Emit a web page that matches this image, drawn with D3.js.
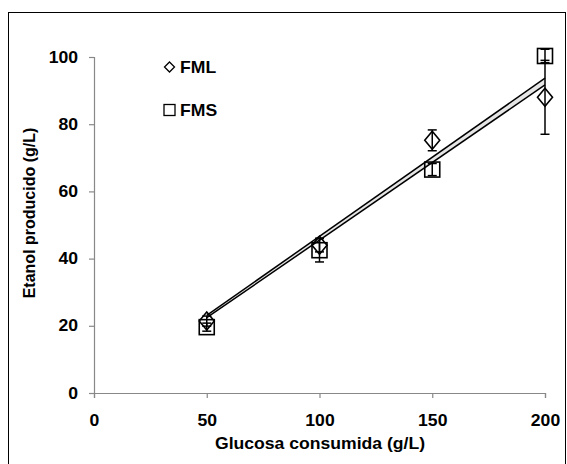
<!DOCTYPE html>
<html>
<head>
<meta charset="utf-8">
<script src="https://cdn.jsdelivr.net/npm/d3@7"></script>
<style>
  body { margin: 0; background: #fff; }
  text { font-family: "Liberation Sans", Arial, sans-serif; font-weight: bold; fill: #000; }
</style>
</head>
<body>
<div id="chart"></div>
<script>
// Glucosa consumida vs etanol producido
var glucosa = [50, 100, 150, 200];
var fml = [21.4, 44.0, 75.2, 88.0];
var fmlErr = [1.5, 2.0, 3.1, 11.0];
var fms = [19.6, 42.5, 66.5, 100.3];
var fmsErr = [1.2, 3.5, 1.8, 2.0];
// trend lines (end points)
var trendX = [50, 200];
var trendFML = [22.4, 91.7];
var trendFMS = [23.1, 93.7];
var xTicks = [0, 50, 100, 150, 200];
var yTicks = [0, 20, 40, 60, 80, 100];

var svgWidth = 567;
var svgHeight = 464;
var stretch = "scale(1.1,1)"; // the original text is a little wide

var svg = d3.select("#chart")
  .append("svg")
  .attr("width", svgWidth)
  .attr("height", svgHeight);

// outer frame
svg.append("rect")
  .attr("x", 8.5).attr("y", 12.5)
  .attr("width", 557).attr("height", 452)
  .attr("fill", "none")
  .attr("stroke", "#000")
  .attr("stroke-width", 1);

var x = d3.scaleLinear().domain([0, 200]).range([94, 545]);
var y = d3.scaleLinear().domain([0, 100]).range([393, 57]);

// axes
var xAxis = svg.append("g")
  .attr("transform", "translate(0,393)")
  .call(d3.axisBottom(x).tickValues(xTicks).tickSize(5).tickPadding(17));
var yAxis = svg.append("g")
  .attr("transform", "translate(94,0)")
  .call(d3.axisLeft(y).tickValues(yTicks).tickSize(5).tickPadding(9.5));

[xAxis, yAxis].forEach(function(g) {
  g.select(".domain").attr("stroke", "#888").attr("stroke-width", 1.2);
  g.selectAll(".tick line").attr("stroke", "#888").attr("stroke-width", 1.2);
  g.selectAll(".tick text")
    .attr("fill", "#000")
    .attr("transform", stretch)
    .style("font-size", "16px")
    .style("font-family", "Liberation Sans, Arial, sans-serif")
    .style("font-weight", "bold");
});

// trend lines with light band between them
var band = trendX.map(function(d, i) { return [x(d), y(trendFMS[i])]; })
  .concat(trendX.slice().reverse().map(function(d, i) {
    return [x(d), y(trendFML.slice().reverse()[i])];
  }));
svg.append("polygon")
  .attr("points", band.map(function(p) { return p.join(","); }).join(" "))
  .attr("fill", "#e6e6e6");

var line = d3.line()
  .x(function(d) { return x(d[0]); })
  .y(function(d) { return y(d[1]); });

[trendFML, trendFMS].forEach(function(t) {
  svg.append("path")
    .datum(trendX.map(function(d, i) { return [d, t[i]]; }))
    .attr("d", line)
    .attr("fill", "none")
    .attr("stroke", "#000")
    .attr("stroke-width", 1.5);
});

// error bars
function errorBars(vals, errs) {
  var g = svg.append("g").attr("stroke", "#000").attr("stroke-width", 1.5);
  glucosa.forEach(function(gx, i) {
    var cx = x(gx);
    var top = y(vals[i] + errs[i]);
    var bot = y(vals[i] - errs[i]);
    g.append("line").attr("x1", cx).attr("x2", cx).attr("y1", top).attr("y2", bot);
    g.append("line").attr("x1", cx - 4.5).attr("x2", cx + 4.5).attr("y1", top).attr("y2", top);
    g.append("line").attr("x1", cx - 4.5).attr("x2", cx + 4.5).attr("y1", bot).attr("y2", bot);
  });
}
errorBars(fml, fmlErr);
errorBars(fms, fmsErr);

// markers
function diamond(cx, cy, w, h) {
  return "M" + cx + "," + (cy - h / 2) +
    "L" + (cx + w / 2) + "," + cy +
    "L" + cx + "," + (cy + h / 2) +
    "L" + (cx - w / 2) + "," + cy + "Z";
}

svg.selectAll(".fml")
  .data(fml)
  .enter()
  .append("path")
  .attr("class", "fml")
  .attr("d", function(d, i) { return diamond(x(glucosa[i]), y(d), 15, 18); })
  .attr("fill", "none")
  .attr("stroke", "#000")
  .attr("stroke-width", 1.6);

svg.selectAll(".fms")
  .data(fms)
  .enter()
  .append("rect")
  .attr("class", "fms")
  .attr("x", function(d, i) { return x(glucosa[i]) - 7.5; })
  .attr("y", function(d) { return y(d) - 7.5; })
  .attr("width", 15)
  .attr("height", 15)
  .attr("fill", "none")
  .attr("stroke", "#000")
  .attr("stroke-width", 1.6);

// legend
svg.append("path")
  .attr("d", diamond(169.5, 67, 10, 10))
  .attr("fill", "none")
  .attr("stroke", "#000")
  .attr("stroke-width", 1.3);
svg.append("text")
  .attr("transform", "translate(180,73) " + stretch)
  .style("font-size", "16px")
  .text("FML");
svg.append("rect")
  .attr("x", 164).attr("y", 104.5)
  .attr("width", 11).attr("height", 11)
  .attr("fill", "none")
  .attr("stroke", "#000")
  .attr("stroke-width", 1.3);
svg.append("text")
  .attr("transform", "translate(180,116) " + stretch)
  .style("font-size", "16px")
  .text("FMS");

// axis titles
svg.append("text")
  .attr("transform", "translate(320,449) " + stretch)
  .attr("text-anchor", "middle")
  .style("font-size", "16px")
  .text("Glucosa consumida (g/L)");

svg.append("text")
  .attr("transform", "translate(35,213) rotate(-90)")
  .attr("text-anchor", "middle")
  .style("font-size", "16px")
  .text("Etanol producido (g/L)");
</script>
</body>
</html>
